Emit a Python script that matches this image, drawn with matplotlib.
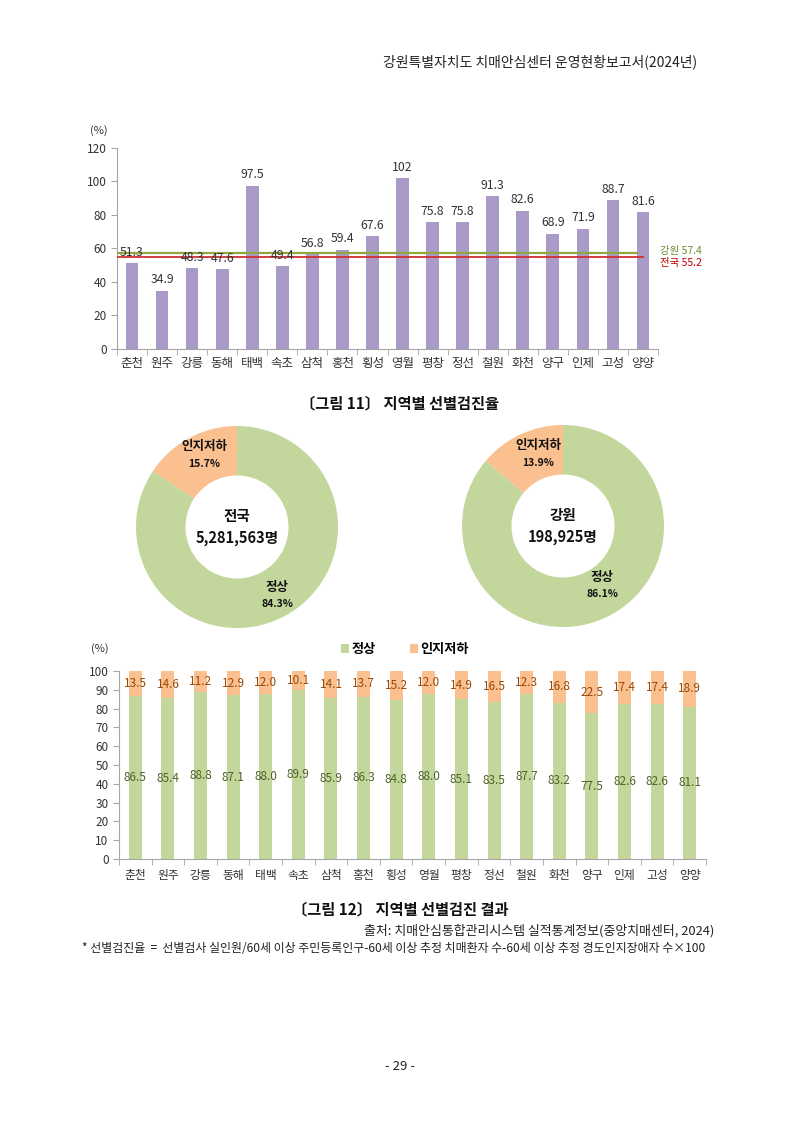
import matplotlib
matplotlib.use("Agg")
import matplotlib.pyplot as plt
import numpy as np
from matplotlib.patches import Patch

plt.rcParams['font.family'] = ['Noto Sans CJK KR', 'DejaVu Sans']

regions = ['춘천', '원주', '강릉', '동해', '태백', '속초', '삼척', '홍천', '횡성',
           '영월', '평창', '정선', '철원', '화천', '양구', '인제', '고성', '양양']
screen_rate = [51.3, 34.9, 48.3, 47.6, 97.5, 49.4, 56.8, 59.4, 67.6,
               102, 75.8, 75.8, 91.3, 82.6, 68.9, 71.9, 88.7, 81.6]
rate_labels = ['51.3', '34.9', '48.3', '47.6', '97.5', '49.4', '56.8', '59.4', '67.6',
               '102', '75.8', '75.8', '91.3', '82.6', '68.9', '71.9', '88.7', '81.6']
gangwon_avg = 57.4
national_avg = 55.2

donut_labels = ['인지저하', '정상']
national_share = [15.7, 84.3]
gangwon_share = [13.9, 86.1]
national_total = '5,281,563명'
gangwon_total = '198,925명'

normal_pct = [86.5, 85.4, 88.8, 87.1, 88.0, 89.9, 85.9, 86.3, 84.8,
              88.0, 85.1, 83.5, 87.7, 83.2, 77.5, 82.6, 82.6, 81.1]
decline_pct = [13.5, 14.6, 11.2, 12.9, 12.0, 10.1, 14.1, 13.7, 15.2,
               12.0, 14.9, 16.5, 12.3, 16.8, 22.5, 17.4, 17.4, 18.9]

W, H = 800, 1131
fig = plt.figure(figsize=(8, 11.31), dpi=100)
fig.patch.set_facecolor('white')

def fx(px):
    return px / W

def fy(py):
    return 1 - py / H

def add_axes_px(left, top, right, bottom):
    return fig.add_axes([fx(left), fy(bottom), (right - left) / W, (bottom - top) / H])

PURPLE = '#A99AC8'
GREEN = '#C3D69B'
ORANGE = '#FAC090'
TXT = '#333333'
AXC = '#A6A6A6'

# Header
fig.text(fx(697), fy(62), '강원특별자치도 치매안심센터 운영현황보고서(2024년)',
         ha='right', va='center', fontsize=10, color='#222222')

# ---------- Chart 1 ----------
ax1 = add_axes_px(117, 148, 658, 349)
x = np.arange(len(regions))
ax1.bar(x, screen_rate, width=0.42, color=PURPLE, zorder=2)
for xi, v, lab in zip(x, screen_rate, rate_labels):
    ax1.text(xi, v + 2.5, lab, ha='center', va='bottom', fontsize=8.8, color=TXT, zorder=4)
ax1.hlines(gangwon_avg, -0.5, 16.85, color='#8FA83E', lw=1.6, zorder=3)
ax1.hlines(national_avg, -0.5, 17.05, color='#D02F2F', lw=1.3, zorder=3)
ax1.text(17.55, 58.5, f'강원 {gangwon_avg}', fontsize=7.5, color='#6E8B2F',
         va='center', ha='left', clip_on=False)
ax1.text(17.55, 51.3, f'전국 {national_avg}', fontsize=7.5, color='#C00000',
         va='center', ha='left', clip_on=False)
ax1.set_xlim(-0.5, len(regions) - 0.5)
ax1.set_ylim(0, 120)
ax1.set_yticks(np.arange(0, 121, 20))
ax1.set_xticks(x)
ax1.set_xticklabels(regions, fontsize=9, color=TXT)
ax1.set_xticks(np.arange(-0.5, len(regions), 1), minor=True)
ax1.tick_params(axis='x', which='major', length=0, pad=6)
ax1.tick_params(axis='x', which='minor', length=4, color=AXC, direction='out')
ax1.tick_params(axis='y', labelsize=8.5, colors=TXT, length=4, color=AXC)
for s in ['top', 'right']:
    ax1.spines[s].set_visible(False)
for s in ['left', 'bottom']:
    ax1.spines[s].set_color(AXC)
fig.text(fx(99), fy(131), '(%)', fontsize=8, color=TXT, ha='center', va='center')

fig.text(fx(400), fy(403), '〔그림 11〕 지역별 선별검진율', ha='center', va='center',
         fontsize=11, fontweight='bold', color='#111111')

# ---------- Donuts ----------
def donut(cx, cy, r, shares, title, total, lab_pos):
    ax = add_axes_px(cx - r, cy - r, cx + r, cy + r)
    ax.pie(shares, colors=[ORANGE, GREEN], startangle=90, counterclock=True,
           radius=1.0, wedgeprops=dict(width=0.49, edgecolor='none'))
    ax.set_xlim(-1, 1)
    ax.set_ylim(-1, 1)
    ax.set_aspect('auto')
    ax.axis('off')
    fig.text(fx(cx), fy(cy - 11), title, ha='center', va='center',
             fontsize=10.5, fontweight='bold', color='#111111')
    fig.text(fx(cx), fy(cy + 11), total, ha='center', va='center',
             fontsize=10.5, fontweight='bold', color='#111111')
    (dx, dy), (nx, ny) = lab_pos
    fig.text(fx(dx), fy(dy), donut_labels[0], ha='center', va='center',
             fontsize=9, fontweight='bold', color='#111111')
    fig.text(fx(dx), fy(dy + 17), f'{shares[0]}%', ha='center', va='center',
             fontsize=7.5, fontweight='bold', color='#111111')
    fig.text(fx(nx), fy(ny), donut_labels[1], ha='center', va='center',
             fontsize=9, fontweight='bold', color='#111111')
    fig.text(fx(nx), fy(ny + 17), f'{shares[1]}%', ha='center', va='center',
             fontsize=7.5, fontweight='bold', color='#111111')

donut(237, 527, 101, national_share, '전국', national_total, ((204, 447), (277, 587)))
donut(563, 526, 101, gangwon_share, '강원', gangwon_total, ((538, 446), (602, 577)))

# ---------- Chart 2 ----------
ax2 = add_axes_px(119, 671, 706, 859)
ax2.bar(x, normal_pct, width=0.4, color=GREEN, zorder=2)
ax2.bar(x, decline_pct, width=0.4, bottom=normal_pct, color=ORANGE, zorder=2)
for xi, n, d in zip(x, normal_pct, decline_pct):
    ax2.text(xi, n / 2, f'{n:.1f}', ha='center', va='center', fontsize=8.5,
             color='#4F6228', zorder=4)
    ax2.text(xi, n + d / 2, f'{d:.1f}', ha='center', va='center', fontsize=8.5,
             color='#984807', zorder=4)
ax2.set_xlim(-0.5, len(regions) - 0.5)
ax2.set_ylim(0, 100)
ax2.set_yticks(np.arange(0, 101, 10))
ax2.set_xticks(x)
ax2.set_xticklabels(regions, fontsize=8.5, color=TXT)
ax2.set_xticks(np.arange(-0.5, len(regions), 1), minor=True)
ax2.tick_params(axis='x', which='major', length=0, pad=7)
ax2.tick_params(axis='x', which='minor', length=4, color=AXC, direction='out')
ax2.tick_params(axis='y', labelsize=8.5, colors=TXT, length=4, color=AXC)
for s in ['top', 'right']:
    ax2.spines[s].set_visible(False)
for s in ['left', 'bottom']:
    ax2.spines[s].set_color(AXC)
fig.text(fx(100), fy(649), '(%)', fontsize=8, color=TXT, ha='center', va='center')

handles = [Patch(facecolor=GREEN, edgecolor='none'), Patch(facecolor=ORANGE, edgecolor='none')]
leg = fig.legend(handles, ['정상', '인지저하'], loc='center', ncol=2,
                 bbox_to_anchor=(fx(405), fy(649)), frameon=False,
                 handlelength=0.6, handleheight=0.6, handletextpad=0.2,
                 columnspacing=2.6, prop={'size': 9.5, 'weight': 'bold'})

fig.text(fx(400), fy(909), '〔그림 12〕 지역별 선별검진 결과', ha='center', va='center',
         fontsize=11, fontweight='bold', color='#111111')
fig.text(fx(714), fy(931), '출처: 치매안심통합관리시스템 실적통계정보(중앙치매센터, 2024)',
         ha='right', va='center', fontsize=9.3, color='#222222')
fig.text(fx(82), fy(949),
         '* 선별검진율  =  선별검사 실인원/60세 이상 주민등록인구-60세 이상 추정 치매환자 수-60세 이상 추정 경도인지장애자 수×100',
         ha='left', va='center', fontsize=8.6, color='#222222')

fig.text(fx(400), fy(1067), '- 29 -', ha='center', va='center', fontsize=9.5, color='#222222')

fig.savefig('out.png', dpi=100, facecolor='white')
